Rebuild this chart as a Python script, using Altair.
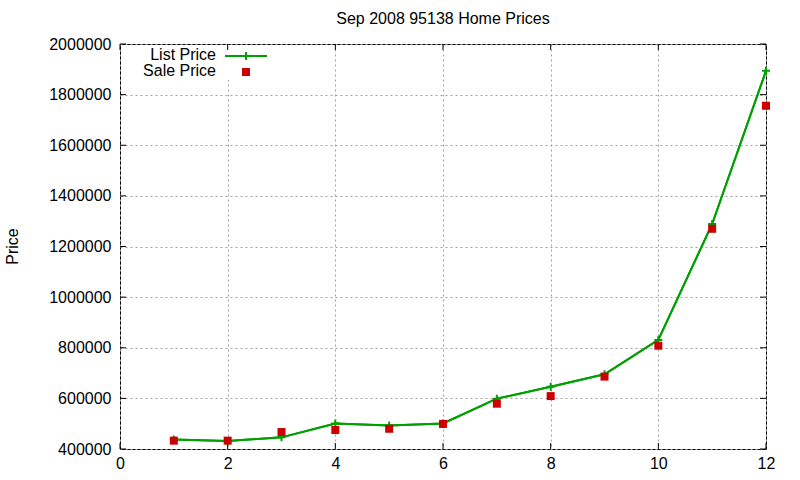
import altair as alt
import pandas as pd

# ---- data ----
x_vals = [1, 2, 3, 4, 5, 6, 7, 8, 9, 10, 11, 12]
list_price = [438000, 432000, 446000, 501000, 493000, 501000, 599000, 646000, 695000, 831000, 1289000, 1894000]
sale_price = [433000, 433000, 467000, 475000, 480000, 499000, 579000, 609000, 686000, 808000, 1270000, 1756000]
x_ticks = [0, 2, 4, 6, 8, 10, 12]
y_ticks = [400000, 600000, 800000, 1000000, 1200000, 1400000, 1600000, 1800000, 2000000]
legend_labels = ["List Price", "Sale Price"]
title_text = "Sep 2008 95138 Home Prices"
y_title = "Price"

GREEN = "#00a000"
RED = "#cc0000"
FONT = "Liberation Sans"
FS = 16
CROSS = "M-1,0L1,0M0,-1L0,1"

df = pd.DataFrame({"x": x_vals, "list": list_price, "sale": sale_price})
xt = pd.DataFrame({"x": x_ticks})
yt = pd.DataFrame({"y": y_ticks})

xs = alt.Scale(domain=[0, 12], nice=False, zero=False)
ys = alt.Scale(domain=[400000, 2000000], nice=False, zero=False)

x_axis = alt.Axis(values=x_ticks, title=None, format="d", labelPadding=6,
                  grid=True, labelFlush=False, labelOverlap=False)
y_axis = alt.Axis(values=y_ticks, title=y_title, format="d", labelPadding=9,
                  grid=True, labelFlush=False, labelOverlap=False,
                  titleAngle=270, titleX=-108, titleY=202,
                  titleAlign="center", titleBaseline="middle",
                  titleFont=FONT, titleFontSize=FS, titleFontWeight="normal",
                  titleColor="black")

base = alt.Chart(df)

line = base.mark_line(color=GREEN, strokeWidth=2).encode(
    x=alt.X("x:Q", scale=xs, axis=x_axis),
    y=alt.Y("list:Q", scale=ys, axis=y_axis),
)
crosses = base.mark_point(shape=CROSS, size=64, color=GREEN, filled=False,
                          strokeWidth=2, opacity=1).encode(
    x=alt.X("x:Q", scale=xs), y=alt.Y("list:Q", scale=ys))
squares = base.mark_point(shape="square", size=64, color=RED, filled=True,
                          opacity=1).encode(
    x=alt.X("x:Q", scale=xs), y=alt.Y("sale:Q", scale=ys))

# white box behind legend hiding grid
mask = alt.Chart(pd.DataFrame({"a": [0]})).mark_rect(color="white").encode(
    x=alt.value(1), x2=alt.value(160), y=alt.value(1), y2=alt.value(36))

# inward ticks (gnuplot style), mirrored on all sides
tick_kw = dict(color="black", strokeWidth=1)
yl = alt.Chart(yt).mark_rule(**tick_kw).encode(
    y=alt.Y("y:Q", scale=ys), x=alt.value(0), x2=alt.value(6))
yr = alt.Chart(yt).mark_rule(**tick_kw).encode(
    y=alt.Y("y:Q", scale=ys), x=alt.value(640), x2=alt.value(646))
xb = alt.Chart(xt).mark_rule(**tick_kw).encode(
    x=alt.X("x:Q", scale=xs), y=alt.value(399), y2=alt.value(405))
xtp = alt.Chart(xt).mark_rule(**tick_kw).encode(
    x=alt.X("x:Q", scale=xs), y=alt.value(0), y2=alt.value(6))

# legend
leg1 = alt.Chart(pd.DataFrame({"t": [legend_labels[0]]})).mark_text(
    align="right", baseline="middle", font=FONT, fontSize=FS, color="black").encode(
    text="t:N", x=alt.value(96), y=alt.value(11))
leg2 = alt.Chart(pd.DataFrame({"t": [legend_labels[1]]})).mark_text(
    align="right", baseline="middle", font=FONT, fontSize=FS, color="black").encode(
    text="t:N", x=alt.value(96), y=alt.value(27))
leg_line = alt.Chart(pd.DataFrame({"a": [0]})).mark_rule(color=GREEN, strokeWidth=2).encode(
    x=alt.value(105), x2=alt.value(147), y=alt.value(12))
leg_cross = alt.Chart(pd.DataFrame({"a": [0]})).mark_point(
    shape=CROSS, size=64, color=GREEN, filled=False, strokeWidth=2, opacity=1).encode(
    x=alt.value(126), y=alt.value(12))
leg_sq = alt.Chart(pd.DataFrame({"a": [0]})).mark_point(
    shape="square", size=64, color=RED, filled=True, opacity=1).encode(
    x=alt.value(126), y=alt.value(28))

chart = alt.layer(
    line, mask, yl, yr, xb, xtp, line, crosses, squares,
    leg1, leg2, leg_line, leg_cross, leg_sq
).properties(
    width=646, height=405,
    background="white",
    title=alt.TitleParams(title_text, font=FONT, fontSize=FS, fontWeight="normal",
                          color="black", anchor="middle", offset=9),
    autosize=alt.AutoSizeParams(type="none"),
    padding={"left": 120, "top": 44, "right": 34, "bottom": 31},
).configure_view(
    stroke="black", strokeWidth=1
).configure_axis(
    labelFont=FONT, labelFontSize=FS, labelColor="black",
    gridColor="#a0a0a0", gridDash=[2, 3], gridWidth=1,
    tickSize=0, domain=False
)

chart.save("out.html", embed_options={"renderer": "svg", "actions": False})
